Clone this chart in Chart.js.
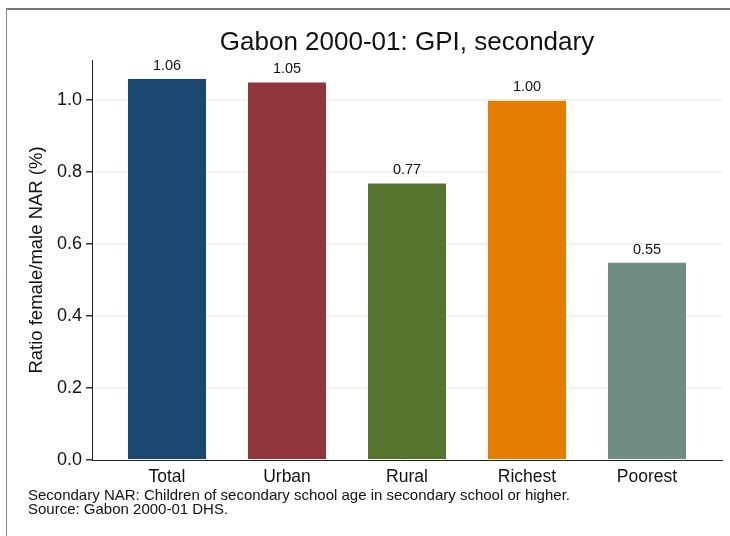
<!DOCTYPE html>
<html>
<head>
<meta charset="utf-8">
<script src="https://cdn.jsdelivr.net/npm/chart.js@4.4.1/dist/chart.umd.min.js"></script>
<style>
  html, body { margin: 0; padding: 0; background: #fff; }
  #wrap { width: 730px; height: 536px; }
</style>
</head>
<body>
<div id="wrap"><canvas id="chart-area" width="730" height="536"></canvas></div>
<script>
// data
var categories = ["Total", "Urban", "Rural", "Richest", "Poorest"];
var gpiValues = [1.06, 1.05, 0.77, 1.00, 0.55];
var barColors = ["#1a476f", "#90353b", "#55752f", "#e37e00", "#6e8e84"];
var yTicks = [0, 0.2, 0.4, 0.6, 0.8, 1.0];
var titleText = "Gabon 2000-01: GPI, secondary";
var yTitle = "Ratio female/male NAR (%)";
var notes = [
  "Secondary NAR: Children of secondary school age in secondary school or higher.",
  "Source: Gabon 2000-01 DHS."
];

var FONT = "'Liberation Sans', Arial, Helvetica, sans-serif";

// frame, title, notes and the value labels over the bars
var extras = {
  id: "extras",
  afterDraw: function(chart) {
    var c = chart.ctx;
    var area = chart.chartArea;
    c.save();
    // frame round the graph region
    c.strokeStyle = "#777";
    c.lineWidth = 2;
    c.beginPath(); c.moveTo(6, 9); c.lineTo(730, 9); c.stroke();
    c.strokeStyle = "#888";
    c.lineWidth = 1;
    c.beginPath(); c.moveTo(6.5, 9); c.lineTo(6.5, 536); c.stroke();

    c.fillStyle = "#111";
    c.textAlign = "center";
    c.textBaseline = "middle";
    c.font = "26px " + FONT;
    c.fillText(titleText, (area.left + area.right) / 2, 43);

    c.font = "14.5px " + FONT;
    c.textBaseline = "bottom";
    var meta = chart.getDatasetMeta(0);
    meta.data.forEach(function(bar, i) {
      c.fillText(gpiValues[i].toFixed(2), bar.x, bar.y - 5);
    });

    c.textAlign = "left";
    c.textBaseline = "middle";
    c.font = "15px " + FONT;
    notes.forEach(function(line, i) {
      c.fillText(line, 28, 496 + i * 14);
    });
    c.restore();
  }
};

var ctx = document.getElementById("chart-area").getContext("2d");
var myChart = new Chart(ctx, {
  type: "bar",
  data: {
    datasets: [{
      data: gpiValues.map(function(v, i) { return { x: i, y: v }; }),
      backgroundColor: barColors,
      borderColor: "rgba(255,255,255,0.35)",
      borderWidth: 1,
      barPercentage: 0.667,
      categoryPercentage: 1
    }]
  },
  options: {
    responsive: false,
    animation: false,
    devicePixelRatio: 1,
    layout: { padding: { top: 60, right: 8, bottom: 46, left: 0 } },
    plugins: { legend: { display: false }, tooltip: { enabled: false } },
    scales: {
      x: {
        type: "linear",
        offset: false,
        min: -0.625,
        max: categories.length - 1 + 0.625,
        afterBuildTicks: function(s) {
          s.ticks = categories.map(function(c, i) { return { value: i }; });
        },
        afterFit: function(s) { s.height = 30; },
        ticks: {
          callback: function(v) { return categories[v]; },
          color: "#111",
          font: { family: FONT, size: 17.5 },
          padding: 7,
          maxRotation: 0,
          autoSkip: false
        },
        grid: { display: false, drawTicks: false },
        border: { color: "#222", width: 1 }
      },
      y: {
        min: 0,
        max: 1.11,
        afterBuildTicks: function(s) {
          s.ticks = yTicks.map(function(v) { return { value: v }; });
        },
        afterFit: function(s) { s.width = 92; },
        ticks: {
          callback: function(v) { return v.toFixed(1); },
          color: "#111",
          font: { family: FONT, size: 18 },
          padding: 4
        },
        grid: {
          color: function(c) { return c.tick && c.tick.value === 0 ? "rgba(0,0,0,0)" : "#e9f0f3"; },
          tickColor: "#333",
          tickLength: 6,
          lineWidth: 1.5
        },
        border: { color: "#222", width: 1 },
        title: {
          display: true,
          text: yTitle,
          color: "#111",
          font: { family: FONT, size: 18.5 },
          padding: { top: 26, bottom: 4 }
        }
      }
    }
  },
  plugins: [extras]
});
</script>
</body>
</html>
